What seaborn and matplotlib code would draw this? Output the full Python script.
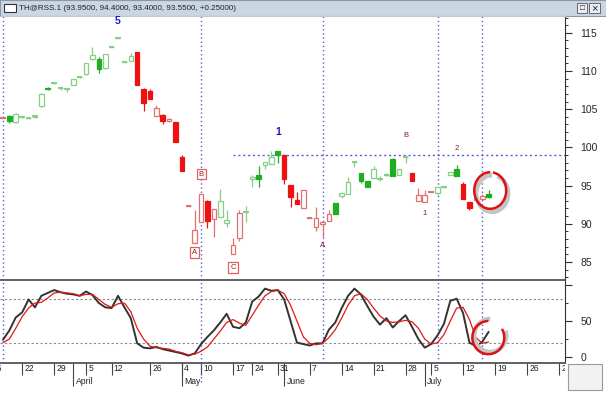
import numpy as np
import pandas as pd
import matplotlib
matplotlib.use('Agg')
import matplotlib.pyplot as plt
from matplotlib.patches import Arc, Rectangle
from matplotlib.ticker import MultipleLocator
import seaborn as sns

sns.set_style('white')
plt.rcParams['font.family'] = ['Liberation Sans', 'DejaVu Sans']

# daily candles, one entry per trading day (left to right)
opens = [103.9, 104.1, 103.3, 104.0, 103.8, 104.0, 105.4, 107.8, 108.4, 107.8,
         107.6, 108.2, 109.2, 109.6, 111.6, 111.6, 110.4, 113.2, 114.3, 111.2,
         111.3, 112.5, 107.7, 107.4, 104.1, 104.3, 103.5, 103.3, 98.7, 92.3,
         87.5, 90.2, 93.0, 90.6, 90.9, 90.1, 86.0, 88.1, 91.5, 95.9,
         96.4, 97.7, 97.8, 99.5, 99.0, 95.1, 93.1, 92.1, 90.8, 89.6,
         90.0, 90.4, 92.7, 93.6, 93.9, 98.1, 96.7, 95.6, 96.0, 95.9,
         96.4, 98.5, 96.4, 98.7, 96.7, 93.0, 92.9, 94.2, 94.0, 94.8,
         96.4, 97.2, 95.2, 92.8, 93.1, 93.3, 93.95]
highs = [104.0, 104.2, 104.5, 104.1, 104.0, 104.3, 107.1, 107.9, 108.5, 108.0,
         107.7, 109.0, 109.4, 111.1, 113.2, 111.8, 112.2, 113.3, 114.4, 111.2,
         112.4, 112.5, 107.8, 107.7, 105.6, 104.4, 103.9, 103.3, 99.0, 92.3,
         91.8, 93.9, 93.1, 91.9, 94.6, 91.8, 88.1, 91.8, 92.3, 96.4,
         97.6, 98.1, 99.5, 99.5, 99.0, 95.1, 94.2, 94.4, 90.8, 92.2,
         90.2, 91.8, 92.7, 94.0, 96.1, 98.1, 96.7, 95.6, 97.5, 96.3,
         96.6, 98.6, 97.2, 98.7, 96.7, 94.7, 94.4, 94.3, 94.8, 94.9,
         96.8, 97.7, 95.5, 92.8, 93.4, 93.9, 94.4]
lows = [103.8, 103.2, 103.2, 103.9, 103.7, 103.9, 105.3, 107.5, 108.3, 107.5,
        107.2, 108.1, 109.1, 109.5, 111.5, 109.8, 110.3, 113.1, 114.2, 111.2,
        111.3, 108.2, 104.8, 106.3, 104.1, 103.1, 103.3, 100.7, 96.9, 92.3,
        87.5, 90.2, 89.4, 88.3, 90.9, 89.6, 86.0, 87.7, 90.2, 94.8,
        94.8, 97.2, 97.8, 98.0, 95.2, 92.2, 92.6, 92.1, 90.8, 89.0,
        88.3, 90.4, 91.3, 93.4, 93.9, 97.4, 95.3, 94.8, 96.0, 95.6,
        96.2, 96.3, 96.4, 98.0, 95.6, 93.0, 92.9, 94.1, 93.7, 94.7,
        96.4, 96.3, 93.2, 91.8, 93.1, 93.2, 93.4]
closes = [103.9, 103.4, 104.4, 104.0, 103.9, 104.1, 107.0, 107.6, 108.4, 107.8,
          107.6, 109.0, 109.2, 111.1, 112.1, 110.2, 112.2, 113.2, 114.3, 111.2,
          112.0, 108.2, 105.8, 106.3, 105.2, 103.5, 103.7, 100.7, 96.9, 92.3,
          89.2, 93.9, 90.4, 91.9, 93.0, 90.5, 87.2, 91.4, 91.5, 96.1,
          95.9, 98.1, 98.7, 99.0, 95.9, 93.5, 92.6, 94.4, 90.8, 90.8,
          90.2, 91.3, 91.3, 94.0, 95.5, 98.1, 95.6, 94.8, 97.2, 95.9,
          96.4, 96.3, 97.2, 98.7, 95.6, 93.8, 93.8, 94.2, 94.8, 94.8,
          96.8, 96.3, 93.2, 92.1, 93.4, 93.6, 93.55]
trend = list('rgggggggggggggggggggg' 'rrrrrrrrrrrrr' 'ggrrg' 'gggggrrrrrrrr'
             'gggggggggggg' 'rrrrggggrrrrg')

# stochastic oscillator (%K black, %D red)
stoch_k = [24, 37, 55, 62, 80, 69, 85, 89, 93, 90, 88, 87, 85, 91, 86, 75, 69, 68, 85, 69,
           54, 19, 13, 12, 14, 11, 9, 7, 5, 2, 5, 18, 28, 37, 48, 60, 42, 40, 48, 77,
           84, 95, 92, 93, 80, 50, 20, 18, 16, 19, 19, 38, 48, 68, 85, 95, 87, 71, 56, 45,
           54, 41, 50, 58, 42, 25, 13, 18, 30, 46, 78, 81, 61, 20, 15, 21, 35]
stoch_d = [20, 25, 40, 56, 68, 75, 76, 82, 89, 90, 89, 88, 85, 87, 87, 80, 73, 69, 74, 75,
           63, 40, 25, 15, 13, 12, 11, 8, 6, 3, 4, 8, 14, 25, 36, 48, 52, 47, 44, 58,
           72, 85, 91, 93, 88, 72, 50, 28, 19, 17, 19, 27, 38, 54, 72, 85, 88, 80, 68, 57,
           50, 48, 49, 51, 49, 40, 25, 18, 20, 31, 50, 68, 69, 52, 27, 19, 21]

week_ticks = [-2, 3, 8, 13, 17, 23, 28, 31, 36, 39, 43, 48, 53, 58, 63, 67, 72, 77, 82, 87]
week_labels = ['15', '22', '29', '5', '12', '26', '4', '10', '17', '24', '31', '7', '14',
               '21', '28', '5', '12', '19', '26', '2']
month_ticks = [11, 28, 44, 66]
month_labels = ['April', 'May', 'June', 'July']

marker_days = [0, 31, 50, 68, 75]
resist_level = 99.0
resist_start = 36

wave_labels = ['5', '1']
wave_days = [18, 43]
wave_prices = [116.6, 102.0]
count_labels = ['B', '2', '1', 'A']
count_days = [63, 71, 66, 50]
count_prices = [101.5, 99.8, 91.3, 87.1]
boxed_labels = ['A', 'B', 'C']
boxed_days = [30, 31, 36]
boxed_prices = [86.2, 96.5, 84.3]

title_text = 'TH@RSS.1 (93.9500, 94.4000, 93.4000, 93.5500, +0.25000)'

G_SOLID, G_HOLLOW = '#1fae1f', '#86cf86'
R_SOLID, R_HOLLOW = '#ee1111', '#e27070'
DOT = '#5b5bd6'

df = pd.DataFrame({'day': np.arange(len(closes)), 'open': opens, 'high': highs,
                   'low': lows, 'close': closes, 'trend': trend})
df['filled'] = df['close'] < df['open']
df['edge'] = [(G_SOLID if f else G_HOLLOW) if t == 'g' else (R_SOLID if f else R_HOLLOW)
              for t, f in zip(df['trend'], df['filled'])]
df['face'] = [e if f else 'white' for e, f in zip(df['edge'], df['filled'])]
df['bottom'] = df[['open', 'close']].min(axis=1)
df['body'] = (df['close'] - df['open']).abs()

W, H = 606, 394
fig = plt.figure(figsize=(W / 100, H / 100), dpi=100)
xlim = (-0.47, 87.95)

# title bar
tb = fig.add_axes([0, 1 - 16 / H, 1, 16 / H])
tb.set_facecolor('#cad6e2')
tb.set_xticks([]); tb.set_yticks([])
for s in tb.spines.values():
    s.set_color('#8a98a8')
tb.set_xlim(0, W); tb.set_ylim(0, 16)
tb.add_patch(Rectangle((4, 4), 12, 8, fc='white', ec='#333333', lw=0.8))
tb.text(19, 8, title_text, fontsize=5.8, va='center', ha='left', color='#222222')
tb.add_patch(Rectangle((577, 3), 10, 10, fc='#e8eef4', ec='#555555', lw=0.6))
tb.add_patch(Rectangle((589, 3), 11, 10, fc='#e8eef4', ec='#555555', lw=0.6))
tb.text(582, 8, '□', fontsize=6, ha='center', va='center', color='#222222')
tb.text(594.5, 8, '×', fontsize=8, ha='center', va='center', color='#222222')

# price panel
ax = fig.add_axes([0, 114 / H, 565 / W, 264 / H])
ax.vlines(df['day'], df['low'], df['high'], colors=df['edge'], lw=0.9, zorder=2)
ax.bar(df['day'], df['body'], bottom=df['bottom'], width=0.72, color=df['face'],
       edgecolor=df['edge'], linewidth=0.9, zorder=3)
doji = df[df['body'] < 0.15]
ax.hlines(doji['close'], doji['day'] - 0.42, doji['day'] + 0.42, colors=doji['edge'], lw=1.5, zorder=4)

for d in marker_days:
    ax.axvline(d, color=DOT, ls=(0, (1, 2)), lw=1, zorder=1)
ax.hlines(resist_level, resist_start, xlim[1], color=DOT, ls=(0, (1.5, 2)), lw=1, zorder=1)

for t, d, p in zip(wave_labels, wave_days, wave_prices):
    ax.text(d, p, t, color='#1a1acc', fontsize=7.5, fontweight='bold', ha='center', va='center')
for t, d, p in zip(count_labels, count_days, count_prices):
    ax.text(d, p, t, color='#7a1c1c', fontsize=5.5, ha='center', va='center')
for t, d, p in zip(boxed_labels, boxed_days, boxed_prices):
    ax.text(d, p, t, color='#8a2020', fontsize=5.5, ha='center', va='center',
            bbox=dict(boxstyle='square,pad=0.25', fc='white', ec='#e06060', lw=0.9))

last = len(closes) - 1
cx, cy = last + 0.25, closes[-1] + 0.8
ax.add_patch(Arc((cx + 0.3, cy - 0.4), 5.0, 4.8, theta1=90, theta2=430, color='#c4c4c4', lw=3.2, zorder=5))
ax.add_patch(Arc((cx, cy), 5.0, 4.8, theta1=90, theta2=440, color='#dd1111', lw=1.8, zorder=6))

ax.set_xlim(*xlim)
ax.set_ylim(82.63, 117.2)
ax.set_xticks([])
ax.yaxis.tick_right()
ax.set_yticks(range(85, 116, 5))
ax.yaxis.set_minor_locator(MultipleLocator(1))
ax.tick_params(axis='y', which='major', length=5, width=0.8, color='#333333', labelsize=7.5, pad=6)
ax.tick_params(axis='y', which='minor', length=2.5, width=0.7, color='#333333')
ax.spines['left'].set_visible(False)
ax.spines['top'].set_color('#c0c8d0')
ax.spines['right'].set_color('#333333')
ax.spines['bottom'].set_color('#555555')
ax.spines['bottom'].set_linewidth(1.3)

# stochastic panel
ax2 = fig.add_axes([0, 31 / H, 565 / W, 82 / H])
for lvl in (80, 20):
    ax2.axhline(lvl, color='#8a8a8a', ls=(0, (2, 2)), lw=0.8, zorder=1)
for d in marker_days:
    ax2.axvline(d, color=DOT, ls=(0, (1, 2)), lw=1, zorder=1)
sns.lineplot(x=df['day'], y=stoch_d, ax=ax2, color='#e01818', lw=0.9, legend=False, zorder=3)
sns.lineplot(x=df['day'], y=stoch_k, ax=ax2, color='#333333', lw=1.4, legend=False, zorder=2)
ax2.add_patch(Arc((last + 0.25, stoch_k[-1] - 5), 5.0, 46, theta1=90, theta2=430, color='#c4c4c4', lw=3.2, zorder=5))
ax2.add_patch(Arc((last - 0.05, stoch_k[-1] - 8), 5.0, 46, theta1=90, theta2=440, color='#dd1111', lw=1.8, zorder=6))
ax2.set_xlim(*xlim)
ax2.set_ylim(-8.3, 105.6)
ax2.set_xticks([])
ax2.set_xlabel(''); ax2.set_ylabel('')
ax2.yaxis.tick_right()
ax2.set_yticks([0, 50, 100])
ax2.set_yticklabels(['0', '50', ''])
ax2.yaxis.set_minor_locator(MultipleLocator(25))
ax2.tick_params(axis='y', which='major', length=5, width=0.8, color='#333333', labelsize=7.5, pad=6)
ax2.tick_params(axis='y', which='minor', length=2.5, width=0.7, color='#333333')
ax2.spines['left'].set_visible(False)
ax2.spines['top'].set_visible(False)
ax2.spines['right'].set_color('#333333')
ax2.spines['bottom'].set_color('#555555')
ax2.spines['bottom'].set_linewidth(1.3)

# date strip
ax3 = fig.add_axes([0, 4 / H, 565 / W, 27 / H])
ax3.set_xlim(*xlim)
ax3.set_ylim(0, 1)
ax3.axis('off')
ax3.vlines(week_ticks, 0.56, 1, color='#444444', lw=0.8)
ax3.vlines(month_ticks, 0.15, 1, color='#444444', lw=0.8)
for d, t in zip(week_ticks, week_labels):
    ax3.text(d + 0.35, 0.78, t, fontsize=6.2, ha='left', va='center', color='#222222', clip_on=True)
for d, t in zip(month_ticks, month_labels):
    ax3.text(d + 0.35, 0.33, t, fontsize=6.2, ha='left', va='center', color='#222222', clip_on=True)
ax3.axvline(marker_days[1], ymin=0.3, ymax=1, color=DOT, ls=(0, (1, 2)), lw=1)

# scroll widget bottom right
fig.patches.append(Rectangle((568 / W, 4 / H), 34 / W, 26 / H, transform=fig.transFigure,
                             fc='#f2f2f2', ec='#9a9a9a', lw=0.8))

plt.savefig('out.png', dpi=100)
